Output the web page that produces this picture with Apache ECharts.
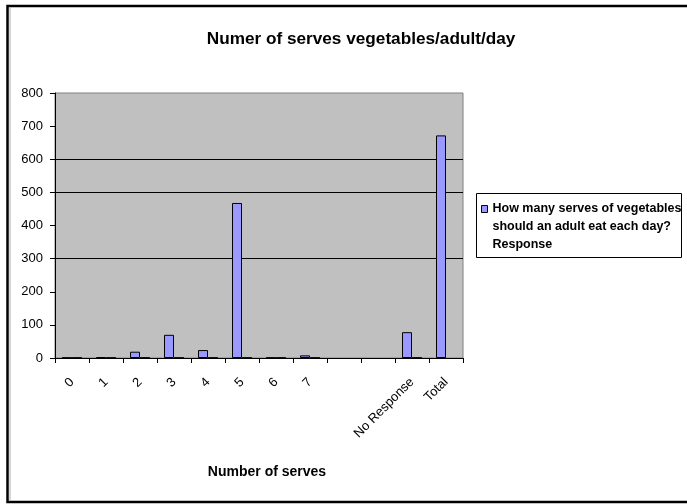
<!DOCTYPE html>
<html>
<head>
<meta charset="utf-8">
<script src="https://cdn.jsdelivr.net/npm/echarts@6/dist/echarts.min.js"></script>
<style>
  html, body { margin: 0; padding: 0; background: #fff; }
  #chart { width: 687px; height: 504px; }
</style>
</head>
<body>
<div id="chart"></div>
<script>
// Serves categories (two unused slots before "No Response")
const categories = ['0', '1', '2', '3', '4', '5', '6', '7', '', '', 'No Response', 'Total'];
// Responses per category
const responses = [1, 3, 19, 70, 24, 468, 1, 8, null, null, 78, 672];
// Companion series, barely above zero
const companion = [1, 1, 1, 1, 1, 1, 1, 1, null, null, 1, null];
const yTicks = [0, 100, 200, 300, 400, 500, 600, 700, 800];

const seriesName = 'How many serves of vegetables\nshould an adult eat each day?\nResponse';
const FONT = 'Liberation Sans, Arial, sans-serif';

const chart = echarts.init(document.getElementById('chart'), null, { renderer: 'canvas' });

// Only some of the horizontal grid lines are drawn
const gridColors = yTicks.map(v => (v === 300 || v === 500 || v === 600) ? '#000000' : 'rgba(0,0,0,0)');

chart.setOption({
  backgroundColor: '#ffffff',
  animation: false,
  title: {
    text: 'Numer of serves vegetables/adult/day',
    left: 356, top: 26, textAlign: 'center',
    textStyle: { fontFamily: FONT, fontSize: 17.2, fontWeight: 'bold', color: '#000' }
  },
  legend: {
    data: [seriesName],
    left: 481, top: 164,
    padding: 0,
    itemWidth: 6, itemHeight: 7, itemGap: 0,
    icon: 'rect',
    itemStyle: { borderColor: '#000', borderWidth: 1 },
    // two empty lines on top keep the first line level with the swatch
    formatter: name => '\n\n' + name,
    textStyle: {
      fontFamily: FONT, fontSize: 12.5, fontWeight: 'bold', color: '#000',
      lineHeight: 18
    }
  },
  grid: {
    left: 55, right: 224, top: 93, bottom: 146,
    show: true, backgroundColor: '#C0C0C0', borderColor: '#808080', borderWidth: 1
  },
  xAxis: {
    type: 'category',
    data: categories,
    name: 'Number of serves',
    nameLocation: 'middle',
    nameGap: 107,
    nameTextStyle: { fontFamily: FONT, fontSize: 14, fontWeight: 'bold', color: '#000', padding: [0, 0, 0, 16] },
    axisLine: { lineStyle: { color: '#000', width: 1 } },
    axisTick: { show: true, alignWithLabel: false, length: 5, lineStyle: { color: '#000' } },
    axisLabel: {
      interval: 0, rotate: 45, margin: 22,
      fontFamily: FONT, fontSize: 13, color: '#000'
    },
    splitLine: { show: false }
  },
  yAxis: {
    type: 'value',
    min: 0, max: 800, interval: 100,
    axisLine: { show: true, lineStyle: { color: '#000', width: 1 } },
    axisTick: { show: true, length: 5, lineStyle: { color: '#000' } },
    axisLabel: { fontFamily: FONT, fontSize: 13, color: '#000', margin: 12 },
    splitLine: { show: true, lineStyle: { color: gridColors, width: 1.2 } }
  },
  series: [
    {
      name: seriesName,
      type: 'bar',
      data: responses,
      barWidth: 10,
      barGap: '0%',
      itemStyle: { color: '#9999FF', borderColor: '#000', borderWidth: 1 }
    },
    {
      name: 'companion',
      type: 'bar',
      data: companion,
      barWidth: 10,
      barGap: '0%',
      itemStyle: { color: '#333333', borderColor: '#000', borderWidth: 1 }
    }
  ],
  graphic: [
    // outer chart frame
    { type: 'rect', shape: { x: 7.5, y: 6, width: 700, height: 496 },
      style: { fill: 'none', stroke: '#000', lineWidth: 2.5 }, silent: true },
    { type: 'line', shape: { x1: 10, y1: 8, x2: 10, y2: 500 },
      style: { stroke: '#c8c8c8', lineWidth: 1.5 }, silent: true },
    // legend frame
    { type: 'rect', shape: { x: 476.5, y: 193.5, width: 205, height: 64 },
      style: { fill: 'none', stroke: '#000', lineWidth: 1 }, silent: true }
  ]
});
</script>
</body>
</html>
